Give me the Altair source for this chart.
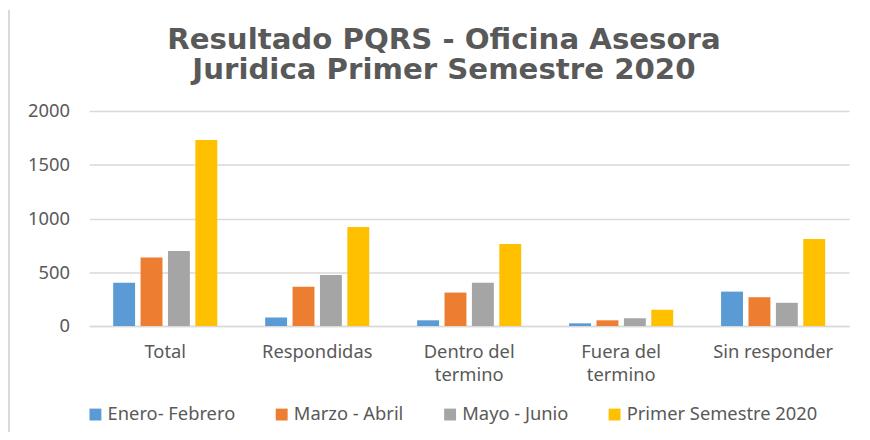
import altair as alt
import pandas as pd

title_lines = ["Resultado PQRS - Oficina Asesora", "Juridica Primer Semestre 2020"]
categories = ["Total", "Respondidas", "Dentro del termino", "Fuera del termino", "Sin responder"]
series = ["Enero- Febrero", "Marzo - Abril", "Mayo - Junio", "Primer Semestre 2020"]
enero = [403, 80, 53, 25, 320]
marzo = [637, 366, 311, 53, 268]
mayo = [698, 474, 403, 72, 216]
primer = [1731, 922, 763, 151, 809]
colors = ["#5B9BD5", "#ED7D31", "#A5A5A5", "#FFC000"]

rows = []
for s, vals in zip(series, [enero, marzo, mayo, primer]):
    for c, v in zip(categories, vals):
        rows.append({"categoria": c, "serie": s, "valor": v})
df = pd.DataFrame(rows)

label_expr = ("datum.label == 'Dentro del termino' ? ['Dentro del', 'termino'] : "
              "datum.label == 'Fuera del termino' ? ['Fuera del', 'termino'] : datum.label")

bars = alt.Chart(df).mark_bar().encode(
    x=alt.X("categoria:N", sort=categories, title=None,
            scale=alt.Scale(paddingInner=0.315, paddingOuter=0.1575),
            axis=alt.Axis(labelAngle=0, labelExpr=label_expr, labelFont="Noto Sans",
                          labelFontSize=18.5, labelColor="#595959", labelPadding=17,
                          labelLineHeight=23, ticks=False, domain=True,
                          domainColor="#d9d9d9", domainWidth=1.5, labelBaseline="top")),
    xOffset=alt.XOffset("serie:N", sort=series, scale=alt.Scale(paddingInner=0.2)),
    y=alt.Y("valor:Q", title=None,
            scale=alt.Scale(domain=[0, 2000], nice=False),
            axis=alt.Axis(values=[0, 500, 1000, 1500, 2000], format="d",
                          labelFont="Noto Sans", labelFontSize=18.5, labelColor="#595959",
                          labelPadding=20, ticks=False, domain=False,
                          gridColor="#d9d9d9", gridWidth=1.5)),
    color=alt.Color("serie:N", sort=series, title=None,
                    scale=alt.Scale(domain=series, range=colors),
                    legend=alt.Legend(orient="none", legendX=-3, legendY=297,
                                      direction="horizontal", symbolType="square",
                                      symbolSize=144, symbolStrokeWidth=0,
                                      labelFont="Noto Sans", labelFontSize=18.5,
                                      labelColor="#595959", labelOffset=3,
                                      labelLimit=0, columnPadding=37)),
)

border = alt.Chart(pd.DataFrame({"a": [0]})).mark_rule(color="#d9d9d9", strokeWidth=2).encode(
    x=alt.value(-81), y=alt.value(-102), y2=alt.value(330)
)

title_df = pd.DataFrame({"t": title_lines, "i": [0, 1]})
title = alt.Chart(title_df).mark_text(
    font="DejaVu Sans", fontSize=29.5, fontWeight="bold", color="#595959",
    align="center", baseline="alphabetic"
).encode(
    text="t:N",
    x=alt.value(358),
    y=alt.Y("i:Q", axis=None, scale=alt.Scale(domain=[0, 1], range=[-63, -32])),
)

chart = alt.layer(bars, border, title).resolve_scale(y="independent").properties(
    width=767, height=217,
    autosize=alt.AutoSizeParams(type="none"),
    padding={"left": 82, "top": 102, "right": 13, "bottom": 105},
).configure_view(stroke=None)

chart.save("out.html", embed_options={"renderer": "svg", "actions": False})
